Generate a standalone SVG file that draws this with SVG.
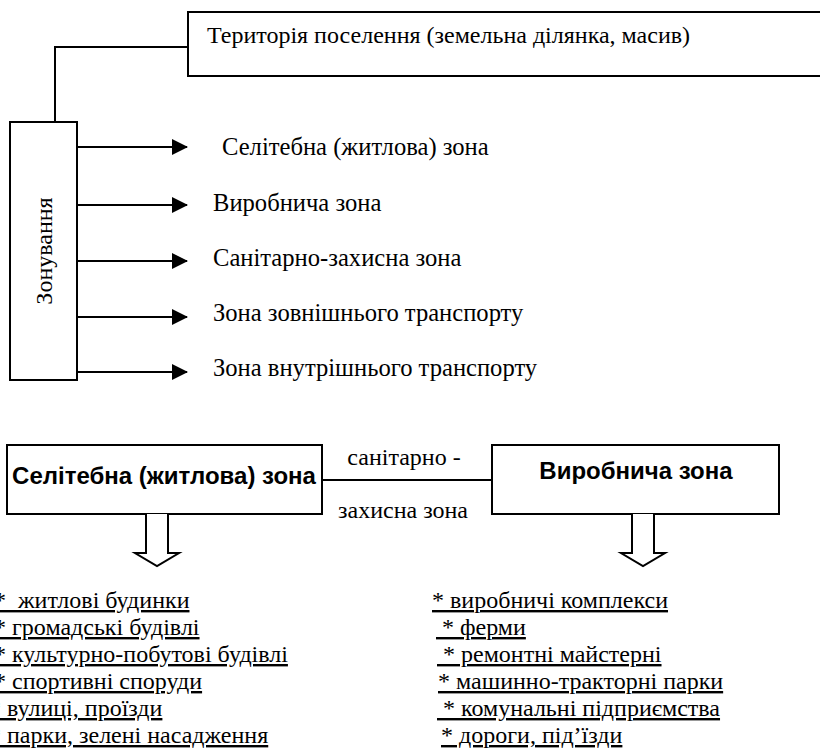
<svg xmlns="http://www.w3.org/2000/svg" width="820" height="749" viewBox="0 0 820 749">
  <style>
    .box { fill: #fff; stroke: #000; stroke-width: 2; }
    .line { fill: none; stroke: #000; stroke-width: 2; }
    .serif { font-family: "Liberation Serif", "Times New Roman", serif; font-size: 24px; fill: #000; }
    .zone { font-family: "Liberation Serif", "Times New Roman", serif; font-size: 24.6px; fill: #000; }
    .bold { font-family: "Liberation Sans", Arial, sans-serif; font-weight: bold; font-size: 24px; fill: #000; }
    .item { font-family: "Liberation Serif", "Times New Roman", serif; font-size: 24px; fill: #000; text-decoration: underline; text-decoration-thickness: 2px; text-underline-offset: 3px; white-space: pre; }
  </style>
  <defs>
    <marker id="arrow" viewBox="0 0 16 16" refX="15" refY="8" markerWidth="16" markerHeight="16" markerUnits="userSpaceOnUse" orient="auto">
      <path d="M0,0 L16,8 L0,16 Z" fill="#000"/>
    </marker>
  </defs>

  <!-- settlement territory -->
  <g id="territory">
    <rect class="box" x="188" y="12" width="660" height="64"/>
    <text class="serif" x="207" y="43">Територія поселення (земельна ділянка, масив)</text>
  </g>

  <!-- zoning -->
  <g id="zoning">
    <rect class="box" x="10" y="122" width="67" height="258"/>
    <text class="serif" transform="translate(52,251) rotate(-90)" text-anchor="middle">Зонування</text>
  </g>

  <!-- zone labels -->
  <g id="zone-residential"><text class="zone" x="222" y="155">Селітебна (житлова) зона</text></g>
  <g id="zone-production"><text class="zone" x="213" y="211">Виробнича зона</text></g>
  <g id="zone-sanitary"><text class="zone" x="213" y="266">Санітарно-захисна зона</text></g>
  <g id="zone-external"><text class="zone" x="213" y="321">Зона зовнішнього транспорту</text></g>
  <g id="zone-internal"><text class="zone" x="213" y="376">Зона внутрішнього транспорту</text></g>

  <!-- residential block -->
  <g id="residential">
    <rect class="box" x="7" y="445" width="315" height="69"/>
    <text class="bold" x="164" y="484" text-anchor="middle">Селітебна (житлова) зона</text>
  </g>

  <!-- production block -->
  <g id="production">
    <rect class="box" x="492" y="445" width="287" height="69"/>
    <text class="bold" x="636" y="479" text-anchor="middle">Виробнича зона</text>
  </g>

  <!-- sanitary buffer label -->
  <g id="buffer">
    <text class="serif" x="404" y="465" text-anchor="middle">санітарно -</text>
    <text class="serif" x="403" y="518" text-anchor="middle">захисна зона</text>
  </g>

  <!-- connectors -->
  <g id="connectors">
    <path class="line" d="M188,47 H55 V122"/>
    <path class="line" d="M77,147 H187" marker-end="url(#arrow)"/>
    <path class="line" d="M77,205 H187" marker-end="url(#arrow)"/>
    <path class="line" d="M77,261 H187" marker-end="url(#arrow)"/>
    <path class="line" d="M77,317 H187" marker-end="url(#arrow)"/>
    <path class="line" d="M77,372 H187" marker-end="url(#arrow)"/>
    <path class="line" d="M322,480 H492"/>
    <path class="box" d="M146,514 V553 H135 L157,566 L179,553 H168 V514"/>
    <path class="box" d="M632,514 V553 H621 L643,566 L665,553 H654 V514"/>
  </g>

  <!-- residential contents -->
  <g id="residential-list">
    <text class="item" x="-6" y="608">*  житлові будинки</text>
    <text class="item" x="-6" y="635">* громадські будівлі</text>
    <text class="item" x="-6" y="662">* культурно-побутові будівлі</text>
    <text class="item" x="-6" y="689">* спортивні споруди</text>
    <text class="item" x="-11" y="716">* вулиці, проїзди</text>
    <text class="item" x="-11" y="743">* парки, зелені насадження</text>
  </g>

  <!-- production contents -->
  <g id="production-list">
    <text class="item" x="432" y="608">* виробничі комплекси</text>
    <text class="item" x="436" y="635"> * ферми</text>
    <text class="item" x="437" y="662"> * ремонтні майстерні</text>
    <text class="item" x="438" y="689">* машинно-тракторні парки</text>
    <text class="item" x="437" y="716"> * комунальні підприємства</text>
    <text class="item" x="441" y="743">* дороги, під’їзди</text>
  </g>
</svg>
